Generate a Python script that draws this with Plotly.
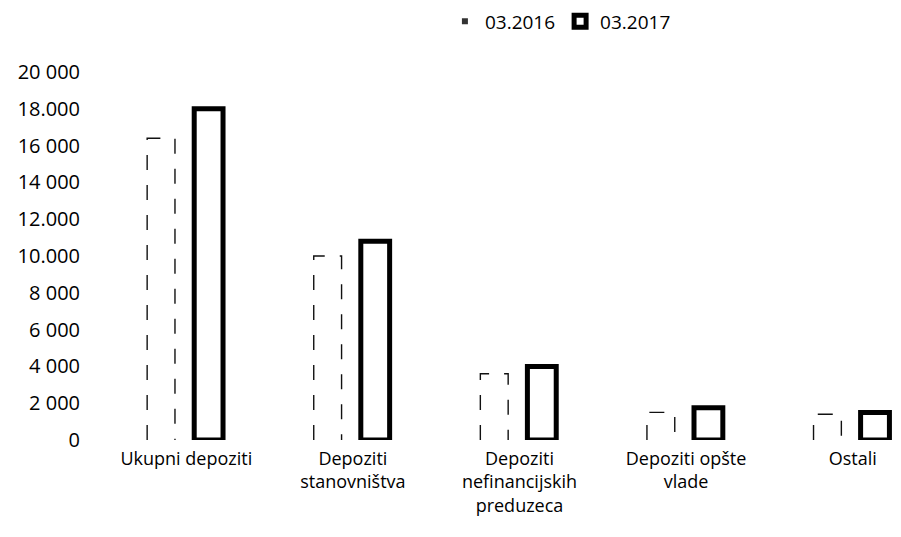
import plotly.graph_objects as go

categories = [
    "Ukupni depoziti",
    "Depoziti<br>stanovništva",
    "Depoziti<br>nefinancijskih<br>preduzeca",
    "Depoziti opšte<br>vlade",
    "Ostali",
]
values_2016 = [16400, 10000, 3600, 1500, 1400]
values_2017 = [18000, 10800, 4000, 1750, 1500]
series_names = ["03.2016", "03.2017"]
tick_values = [0, 2000, 4000, 6000, 8000, 10000, 12000, 14000, 16000, 18000, 20000]
tick_labels = ["0", "2 000", "4 000", "6 000", "8 000", "10.000", "12.000",
               "14 000", "16 000", "18.000", "20 000"]

FONT = "Open Sans"
pos = list(range(len(categories)))

# 03.2016: dashed thin outline bars (built from the data as polylines)
left16, right16 = -0.235, -0.068
xs, ys = [], []
for i, v in zip(pos, values_2016):
    xs += [i + left16, i + left16, i + right16, i + right16, None]
    ys += [0, v, v, 0, None]

fig = go.Figure()
fig.add_trace(go.Scatter(
    x=xs, y=ys, mode="lines", name=series_names[0],
    line=dict(color="#111", width=1.4, dash="longdash"),
    showlegend=False, legendgroup="a", hoverinfo="skip",
))
fig.add_trace(go.Scatter(
    x=[None], y=[None], mode="markers", name=series_names[0],
    marker=dict(symbol="square", size=6, color="#333"),
    legendgroup="a",
))
fig.add_trace(go.Bar(
    x=[i + 0.134 for i in pos], y=values_2017, name=series_names[1],
    width=0.173,
    marker=dict(color="white", line=dict(color="black", width=5)),
))

# page body has an 8px margin; keep the figure inside the viewport
fig.update_layout(
    width=885, height=521,
    margin=dict(l=94.5, r=0, t=64, b=89, autoexpand=False),
    paper_bgcolor="white", plot_bgcolor="white",
    font=dict(family=FONT, color="black"),
    showlegend=True,
    legend=dict(orientation="h", xref="container", yref="container",
                x=0.6242, y=0.9743, xanchor="center", yanchor="middle",
                font=dict(size=19, family=FONT), itemwidth=30,
                traceorder="normal"),
    xaxis=dict(range=[-0.5, 4.242], tickvals=pos, ticktext=categories,
               showgrid=False, zeroline=False, showline=False,
               tickfont=dict(size=18, family=FONT), ticks="",
               ticklabelstandoff=6),
    yaxis=dict(range=[0, 20000], tickvals=tick_values, ticktext=tick_labels,
               showgrid=False, zeroline=False, showline=False,
               tickfont=dict(size=20, family=FONT), ticks="",
               ticklabelstandoff=22),
)

fig.write_html("out.html")
